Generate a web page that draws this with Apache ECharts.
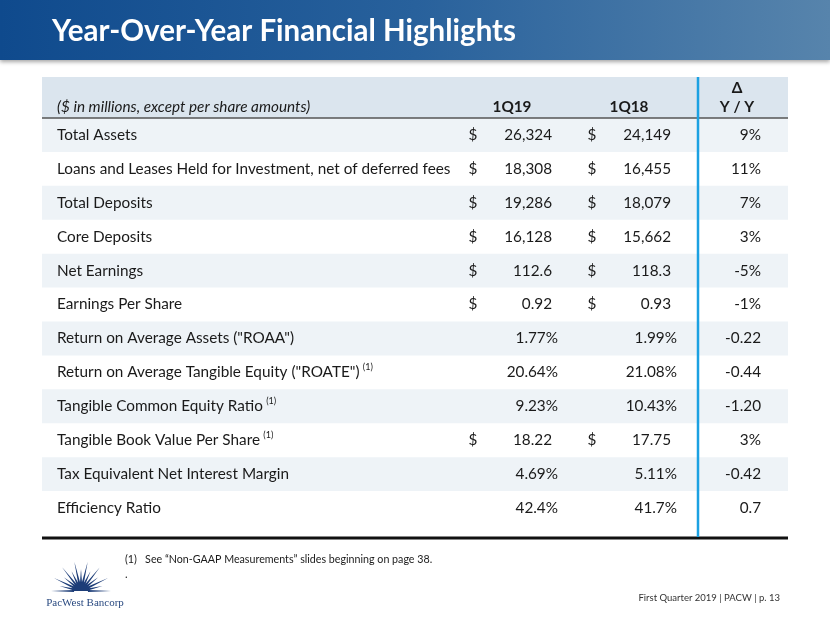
<!DOCTYPE html>
<html>
<head>
<meta charset="utf-8">
<script src="https://cdn.jsdelivr.net/npm/echarts@6/dist/echarts.min.js"></script>
<style>html,body{margin:0;padding:0;background:#fff}#c{width:830px;height:623px}</style>
</head>
<body>
<div id="c"></div>
<script>
// ---- data ----
const rowLabels = [
  "Total Assets",
  "Loans and Leases Held for Investment, net of deferred fees",
  "Total Deposits",
  "Core Deposits",
  "Net Earnings",
  "Earnings Per Share",
  "Return on Average Assets (\"ROAA\")",
  "Return on Average Tangible Equity (\"ROATE\")",
  "Tangible Common Equity Ratio",
  "Tangible Book Value Per Share",
  "Tax Equivalent Net Interest Margin",
  "Efficiency Ratio"
];
const rowNotes = ["", "", "", "", "", "", "", "(1)", "(1)", "(1)", "", ""];
const values1Q19 = [26324, 18308, 19286, 16128, 112.6, 0.92, 1.77, 20.64, 9.23, 18.22, 4.69, 42.4];
const values1Q18 = [24149, 16455, 18079, 15662, 118.3, 0.93, 1.99, 21.08, 10.43, 17.75, 5.11, 41.7];
const valueUnit = ["$", "$", "$", "$", "$", "$", "%", "%", "%", "$", "%", "%"];
const valueDecimals = [0, 0, 0, 0, 1, 2, 2, 2, 2, 2, 2, 1];
const deltaYoY = [9, 11, 7, 3, -5, -1, -0.22, -0.44, -1.20, 3, -0.42, 0.7];
const deltaUnit = ["%", "%", "%", "%", "%", "%", "", "", "", "%", "", ""];
const deltaDecimals = [0, 0, 0, 0, 0, 0, 2, 2, 2, 0, 2, 1];
const columnHeaders = ["($ in millions, except per share amounts)", "1Q19", "1Q18", "\u0394", "Y / Y"];
const titleText = "Year-Over-Year Financial Highlights";
const footnoteText = "(1)   See \u201cNon-GAAP Measurements\u201d slides beginning on page 38.";
const footerText = "First Quarter 2019 | PACW | p. 13";

// ---- formatting ----
function fmt(v, d) {
  return v.toLocaleString('en-US', {minimumFractionDigits: d, maximumFractionDigits: d});
}

const FONT = 'Lato';
const FS = 15.3;
const TXT = '#1a1a1a';
const chart = echarts.init(document.getElementById('c'), null, {renderer: 'canvas'});

// column anchors (px offsets from grid left)
const COL = {label: 15, d1: 431, v1: 510, d2: 550, v2: 629, dl: 719, pct: 6};

function renderItem(params, api) {
  const i = api.value(0);
  const cs = params.coordSys;
  const cy = api.coord([0, i])[1];
  const h = api.size([0, 1])[1];
  const x0 = cs.x;
  const children = [];
  if (i % 2 === 0) {
    children.push({type: 'rect', shape: {x: x0, y: cy - h / 2, width: cs.width, height: h},
      style: {fill: '#eef3f7'}, silent: true});
  }
  const base = {fontFamily: FONT, fontSize: FS, fill: TXT};
  const note = rowNotes[i];
  children.push({type: 'text', x: x0 + COL.label, y: cy, style: {
    text: note ? '{m|' + rowLabels[i] + '} {s|' + note + '}' : '{m|' + rowLabels[i] + '}',
    rich: {m: {fontFamily: FONT, fontSize: FS, fill: TXT, lineHeight: 20, verticalAlign: 'middle'},
           s: {fontFamily: FONT, fontSize: 9, fill: TXT, verticalAlign: 'top'}},
    verticalAlign: 'middle', align: 'left'}});
  const isPct = valueUnit[i] === '%';
  if (!isPct) {
    children.push({type: 'text', x: x0 + COL.d1, y: cy, style: Object.assign({}, base, {text: '$', align: 'center', verticalAlign: 'middle'})});
    children.push({type: 'text', x: x0 + COL.d2, y: cy, style: Object.assign({}, base, {text: '$', align: 'center', verticalAlign: 'middle'})});
  }
  const t1 = fmt(values1Q19[i], valueDecimals[i]) + (isPct ? '%' : '');
  const t2 = fmt(values1Q18[i], valueDecimals[i]) + (isPct ? '%' : '');
  children.push({type: 'text', x: x0 + COL.v1 + (isPct ? COL.pct : 0), y: cy, style: Object.assign({}, base, {text: t1, align: 'right', verticalAlign: 'middle'})});
  children.push({type: 'text', x: x0 + COL.v2 + (isPct ? COL.pct : 0), y: cy, style: Object.assign({}, base, {text: t2, align: 'right', verticalAlign: 'middle'})});
  const td = fmt(deltaYoY[i], deltaDecimals[i]) + deltaUnit[i];
  children.push({type: 'text', x: x0 + COL.dl, y: cy, style: Object.assign({}, base, {text: td, align: 'right', verticalAlign: 'middle'})});
  return {type: 'group', children: children};
}

// logo spikes (decoration)
function logoShapes() {
  const cx = 81, cy = 591, out = [];
  const n = 15;
  for (let k = 0; k < n; k++) {
    const a = Math.PI * k / (n - 1);
    const len = (k % 2 === 0) ? 30 : 22;
    const ca = Math.cos(a), sa = Math.sin(a);
    const w = 0.16;
    const pts = [
      [cx + 7 * Math.cos(a - w), cy - 7 * Math.sin(a - w)],
      [cx + len * ca, cy - len * sa],
      [cx + 7 * Math.cos(a + w), cy - 7 * Math.sin(a + w)]
    ];
    out.push({type: 'polygon', shape: {points: pts}, style: {fill: '#1d3d78'}, silent: true});
  }
  out.push({type: 'sector', shape: {cx: cx, cy: cy, r: 9, startAngle: Math.PI, endAngle: 2 * Math.PI}, style: {fill: '#1d3d78'}, silent: true});
  return out;
}

const option = {
  animation: false,
  grid: {left: 42, right: 42, top: 118, height: 407, containLabel: false},
  xAxis: {type: 'value', min: 0, max: 1, show: false},
  yAxis: {type: 'category', data: rowLabels, inverse: true, show: false},
  series: [{
    type: 'custom',
    renderItem: renderItem,
    data: rowLabels.map((_, i) => [i]),
    encode: {y: 0},
    silent: true
  }],
  graphic: [
    // title bar
    {type: 'rect', shape: {x: 0, y: 0, width: 830, height: 60}, z: 1,
     style: {fill: new echarts.graphic.LinearGradient(0, 0, 1, 0, [
       {offset: 0, color: '#0f4a8d'}, {offset: 0.5, color: '#28619c'}, {offset: 1, color: '#5784ac'}]),
       shadowBlur: 4, shadowColor: 'rgba(0,0,0,0.35)', shadowOffsetY: 2}},
    {type: 'text', x: 52, y: 31, z: 2, style: {text: titleText, fill: '#ffffff', fontFamily: FONT, fontWeight: 'bold', fontSize: 29.5, verticalAlign: 'middle'}},
    // header band
    {type: 'rect', shape: {x: 42, y: 77, width: 746, height: 41}, style: {fill: '#dbe5ee'}, z: 0},
    {type: 'text', x: 57, y: 107, z: 5, style: {text: columnHeaders[0], fill: TXT, fontFamily: FONT, fontStyle: 'italic', fontSize: FS, verticalAlign: 'middle'}},
    {type: 'text', x: 512, y: 107, z: 5, style: {text: columnHeaders[1], fill: TXT, fontFamily: FONT, fontWeight: 'bold', fontSize: FS, align: 'center', verticalAlign: 'middle'}},
    {type: 'text', x: 629, y: 107, z: 5, style: {text: columnHeaders[2], fill: TXT, fontFamily: FONT, fontWeight: 'bold', fontSize: FS, align: 'center', verticalAlign: 'middle'}},
    {type: 'text', x: 737, y: 88, z: 5, style: {text: columnHeaders[3], fill: TXT, fontFamily: FONT, fontWeight: 'bold', fontSize: FS, align: 'center', verticalAlign: 'middle'}},
    {type: 'text', x: 737, y: 107, z: 5, style: {text: columnHeaders[4], fill: TXT, fontFamily: FONT, fontWeight: 'bold', fontSize: FS, align: 'center', verticalAlign: 'middle'}},
    {type: 'line', shape: {x1: 42, y1: 118, x2: 788, y2: 118}, z: 6, style: {stroke: '#555', lineWidth: 1.5}},
    {type: 'line', shape: {x1: 42, y1: 538, x2: 788, y2: 538}, z: 6, style: {stroke: '#111', lineWidth: 3}},
    {type: 'line', shape: {x1: 698, y1: 77, x2: 698, y2: 537}, z: 7, style: {stroke: '#1ba1e2', lineWidth: 2.5}},
    // footnote & footer
    {type: 'text', x: 125, y: 560, style: {text: footnoteText, fill: TXT, fontFamily: FONT, fontSize: 10.7, verticalAlign: 'middle'}},
    {type: 'text', x: 125, y: 574, style: {text: '.', fill: TXT, fontFamily: FONT, fontSize: 11, verticalAlign: 'middle'}},
    {type: 'text', x: 780, y: 598, style: {text: footerText, fill: '#333', fontFamily: FONT, fontSize: 9.5, align: 'right', verticalAlign: 'middle'}},
    {type: 'group', children: logoShapes()},
    {type: 'text', x: 85, y: 603, style: {text: 'PacWest Bancorp', fill: '#2a4a80', fontFamily: 'Liberation Serif', fontSize: 11, align: 'center', verticalAlign: 'middle'}}
  ]
};
chart.setOption(option);
</script>
</body>
</html>
